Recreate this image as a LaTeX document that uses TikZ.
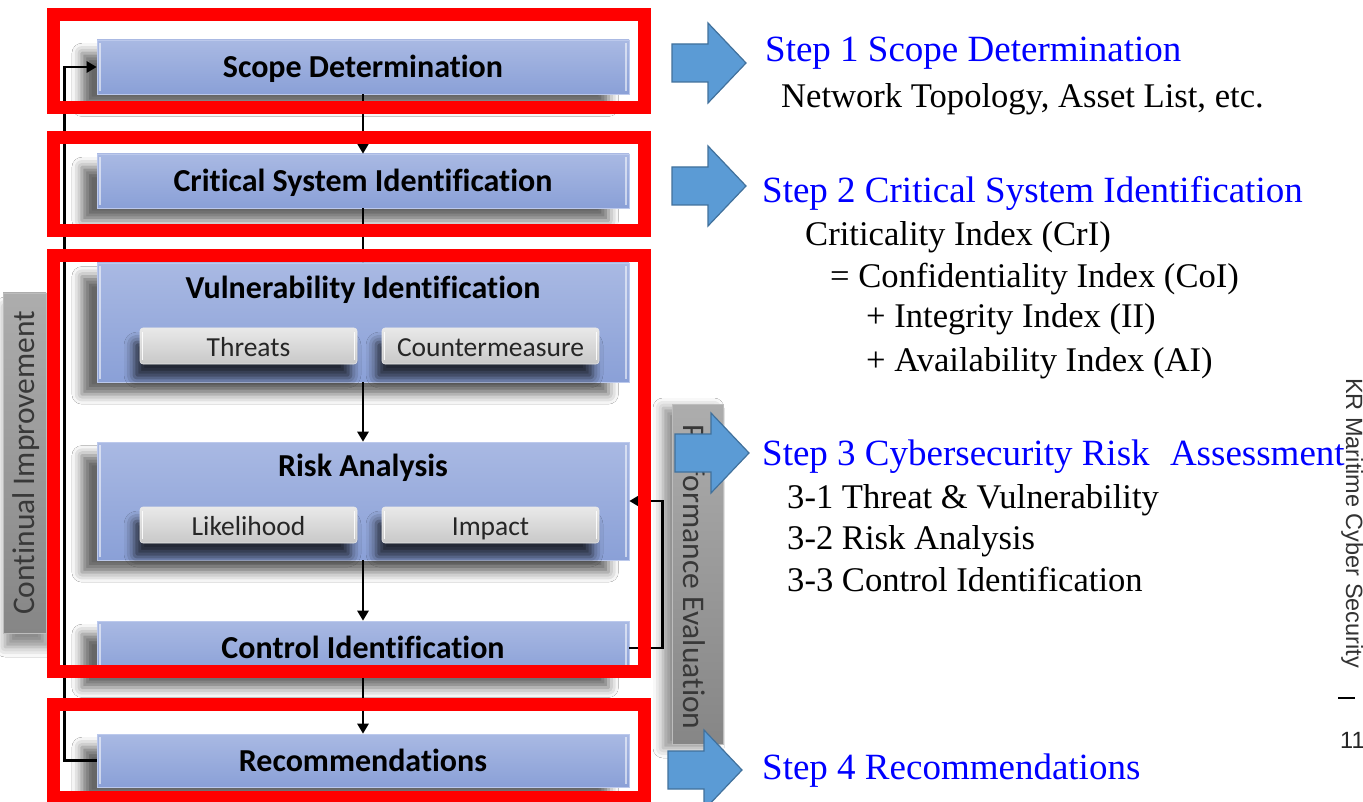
\documentclass[tikz,border=0pt]{standalone}
\usepackage{fontspec}
\setmainfont{Liberation Serif}
\newfontfamily\uifont[Ligatures={NoCommon,NoRequired,NoContextual}]{Carlito}
\newfontfamily\footfont{Liberation Sans}
\usetikzlibrary{shadows.blur,arrows.meta,calc}

\definecolor{boxtop}{HTML}{A9B9E3}
\definecolor{boxbot}{HTML}{8AA0D7}
\definecolor{boxedge}{HTML}{BCC9EC}
\definecolor{btntop}{HTML}{E9E9E9}
\definecolor{btnbot}{HTML}{C8C8C8}
\definecolor{bartop}{HTML}{ADADAD}
\definecolor{barbot}{HTML}{868686}
\definecolor{framered}{HTML}{FF0000}
\definecolor{arrowfill}{HTML}{5B9BD5}
\definecolor{arrowedge}{HTML}{41719C}
\definecolor{stepblue}{HTML}{0000FF}

\tikzset{
  stage/.style={draw=boxedge, line width=0.6pt, top color=boxtop, bottom color=boxbot,
    minimum width=532pt, inner sep=0pt, text height=22pt, text depth=1pt,
    font=\uifont\bfseries\fontsize{32}{35}\selectfont,
    blur shadow={shadow xshift=-18pt, shadow yshift=-13pt, shadow scale=0.99,
      shadow blur radius=10pt, shadow opacity=60},
    path picture={
      \draw[white, opacity=0.55, line width=1.6pt]
        ([xshift=3pt,yshift=-3pt]path picture bounding box.north west) --
        ([xshift=3pt,yshift=3pt]path picture bounding box.south west);
      \draw[white, opacity=0.55, line width=1.6pt]
        ([xshift=-3pt,yshift=-3pt]path picture bounding box.north east) --
        ([xshift=-3pt,yshift=3pt]path picture bounding box.south east);
    }},
  stagetitle/.style={inner sep=0pt, text height=22pt, text depth=1pt,
    font=\uifont\bfseries\fontsize{32}{35}\selectfont},
  btn/.style={draw=btntop, line width=0.6pt, top color=btntop, bottom color=btnbot,
    rounded corners=3pt, minimum width=217pt, minimum height=36pt, inner sep=0pt,
    text height=21pt, text depth=1pt,
    font=\uifont\fontsize{27.5}{30}\selectfont, text=black!85,
    blur shadow={shadow xshift=-6pt, shadow yshift=-14pt, shadow blur radius=10pt, shadow opacity=75},
    path picture={
      \draw[white, opacity=0.9, line width=1.6pt]
        ([xshift=2.5pt,yshift=-4pt]path picture bounding box.north west) --
        ([xshift=2.5pt,yshift=4pt]path picture bounding box.south west);
      \draw[white, opacity=0.9, line width=1.6pt]
        ([xshift=-2.5pt,yshift=-4pt]path picture bounding box.north east) --
        ([xshift=-2.5pt,yshift=4pt]path picture bounding box.south east);
    }},
  sidebar/.style={draw=bartop!80!white, line width=0.8pt, top color=bartop, bottom color=barbot,
    inner sep=0pt},
  sidetext/.style={inner sep=0pt, font=\uifont\fontsize{31.5}{34}\selectfont, text=black!78},
  flow/.style={draw=black, line width=2.6pt, -{Triangle[length=10pt,width=11pt]}},
  feedback/.style={draw=black, line width=2.6pt, -{Triangle[length=10pt,width=11pt]}},
  frame/.style={draw=framered, line width=13pt, line join=miter},
  steptitle/.style={inner sep=0pt, anchor=base west, text=stepblue, font=\fontsize{37}{40}\selectfont},
  stepbody/.style={inner sep=0pt, anchor=base west, text=black, font=\fontsize{34.6}{38}\selectfont},
  bigarrow/.pic={
    \draw[arrowedge, fill=arrowfill, line width=1.2pt, line join=miter]
      (0,-19) -- (36,-19) -- (36,-40) -- (74,0) -- (36,40) -- (36,19) -- (0,19) -- cycle;
  }
}

\begin{document}
\begin{tikzpicture}[x=1pt,y=-1pt]
\useasboundingbox (0,0) rectangle (1363,802);
\clip (0,0) rectangle (1363,802);
\fill[white] (0,0) rectangle (1363,802);

% side bars
\node[sidebar, minimum width=43pt, minimum height=340pt,
  blur shadow={shadow xshift=2pt, shadow yshift=-14pt, shadow blur radius=10pt, shadow opacity=45}]
  (ci) at (24.5,463) {};
\node[sidetext, rotate=90] (citext) at ([xshift=2pt]ci.center) {Continual Improvement};
\node[sidebar, minimum width=51pt, minimum height=340pt,
  blur shadow={shadow xshift=-9pt, shadow yshift=-4pt, shadow blur radius=10pt, shadow opacity=45}]
  (pe) at (697.5,574) {};
\node[sidetext, rotate=-90] (petext) at ([xshift=-3pt,yshift=-3pt]pe.center) {Performance Evaluation};

% process stages
\node[stage, minimum height=54pt] (scope) at (363,67) {Scope Determination};
\node[stage, minimum height=54pt] (crit) at (363,181) {Critical System Identification};
\node[stage, minimum height=119pt] (vuln) at (363,322.5) {};
\node[stage, minimum height=118pt] (risk) at (363,501) {};
\node[stage, minimum height=54pt] (ctrl) at (363,648) {Control Identification};
\node[stage, minimum height=53pt] (rec) at (363,760.5) {Recommendations};

\node[stagetitle] (vulnt) at (363,288) {Vulnerability Identification};
\node[stagetitle] (riskt) at (363,466) {Risk Analysis};

\node[btn] (threats) at (248.5,346) {Threats};
\node[btn] (counter) at (490.5,346) {Countermeasure};
\node[btn] (likely) at (248.5,525) {Likelihood};
\node[btn] (impact) at (490.5,525) {Impact};

% connectors
\draw[flow] (scope) -- (crit);
\draw[flow] (crit) -- (vuln);
\draw[flow] (vuln) -- (risk);
\draw[flow] (risk) -- (ctrl);
\draw[flow] (ctrl) -- (rec);
\draw[feedback] (rec.west) -- ++(-32,0) |- (scope.west);
\draw[feedback] (ctrl.east) -- ++(33,0) |- (risk.east);

% step frames
\draw[frame] (53.5,14.5) rectangle (644.5,107.5);
\draw[frame] (53.5,137.5) rectangle (644.5,230.5);
\draw[frame] (53.5,255.5) rectangle (644.5,671.5);
\draw[frame] (53.5,704.5) rectangle (644.5,797.5);

% step pointers
\pic at (672,63) {bigarrow};
\pic at (672,186) {bigarrow};
\pic at (675,453) {bigarrow};
\pic at (668,770) {bigarrow};

% step descriptions
\node[steptitle] (s1) at (765,62) {Step 1 Scope Determination};
\node[stepbody] (s1a) at (781,108) {Network Topology, Asset List, etc.};
\node[steptitle] (s2) at (762,203) {Step 2 Critical System Identification};
\node[stepbody] (s2a) at (805,246) {Criticality Index (CrI)};
\node[stepbody] (s2b) at (830,288) {= Confidentiality Index (CoI)};
\node[stepbody] (s2c) at (866,328) {+ Integrity Index (II)};
\node[stepbody] (s2d) at (866,371) {+ Availability Index (AI)};
\node[steptitle] (s3) at (762,465) {Step 3 Cybersecurity Risk\hspace{0.3em} Assessment};
\node[stepbody] (s3a) at (787,508) {3-1 Threat \& Vulnerability};
\node[stepbody] (s3b) at (787,549) {3-2 Risk Analysis};
\node[stepbody] (s3c) at (787,591) {3-3 Control Identification};
\node[steptitle] (s4) at (762,779) {Step 4 Recommendations};

% page footer
\node[rotate=-90, anchor=base west, inner sep=0pt, font=\footfont\fontsize{23.5}{26}\selectfont, text=black!80]
  (foot) at (1346,378) {KR Maritime Cyber Security};
\draw[black, line width=2pt] (1338,698) -- (1355,698);
\node[anchor=west, inner sep=0pt, font=\footfont\fontsize{23.5}{26}\selectfont, text=black!85]
  (pageno) at (1340,740) {11};
\end{tikzpicture}
\end{document}
